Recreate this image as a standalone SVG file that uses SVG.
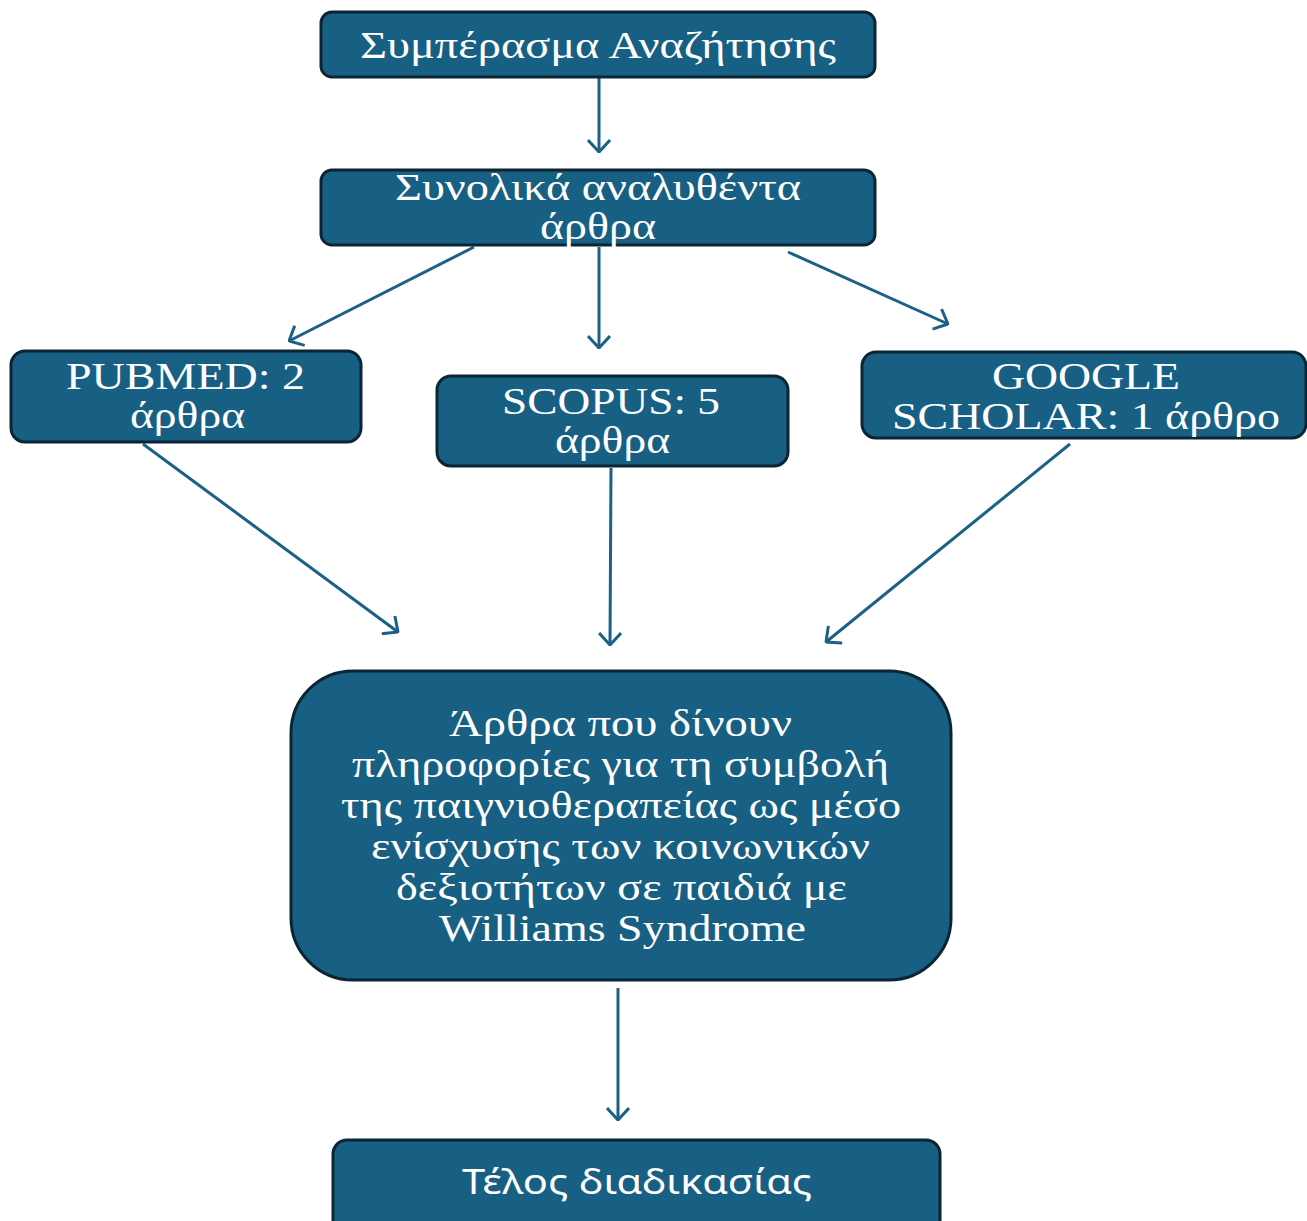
<svg xmlns="http://www.w3.org/2000/svg" width="1307" height="1221" viewBox="0 0 1307 1221">
<style>
.box{fill:#186083;stroke:#0c2535;stroke-width:3}
.t{fill:#ffffff;font-family:"Liberation Serif","DejaVu Serif","Times New Roman",serif;font-size:37px}
.s{fill:#ffffff;font-family:"Noto Sans","Open Sans",sans-serif;font-size:34px}
.c{stroke:#1b6185;stroke-width:3;fill:none;marker-end:url(#ah)}
</style>
<defs>
<marker id="ah" viewBox="0 0 14 24" refX="13" refY="12" markerWidth="14" markerHeight="24" markerUnits="userSpaceOnUse" orient="auto">
<path d="M1,1 L13,12 L1,23" fill="none" stroke="#1b6185" stroke-width="3"/>
</marker>
</defs>
<rect width="1307" height="1221" fill="#ffffff"/>
<g id="connectors">
<line class="c" x1="599" y1="78" x2="599" y2="152"/>
<line class="c" x1="474" y1="247" x2="289" y2="341"/>
<line class="c" x1="599" y1="247" x2="599" y2="348"/>
<line class="c" x1="788" y1="252" x2="948" y2="324"/>
<line class="c" x1="143" y1="444" x2="398" y2="632"/>
<line class="c" x1="611" y1="468" x2="610" y2="645"/>
<line class="c" x1="1070" y1="444" x2="826" y2="642"/>
<line class="c" x1="618" y1="988" x2="618" y2="1120"/>
</g>
<g id="n1">
<rect class="box" x="321" y="12" width="554" height="65" rx="11"/>
<text class="t" x="360" y="58" textLength="476" lengthAdjust="spacingAndGlyphs">Συμπέρασμα Αναζήτησης</text>
</g>
<g id="n2">
<rect class="box" x="321" y="170" width="554" height="75" rx="11"/>
<text class="t" x="395" y="200" textLength="406" lengthAdjust="spacingAndGlyphs">Συνολικά αναλυθέντα</text>
<text class="t" x="540" y="239" textLength="116" lengthAdjust="spacingAndGlyphs">άρθρα</text>
</g>
<g id="n3">
<rect class="box" x="11" y="351" width="350" height="91" rx="14"/>
<text class="t" x="66" y="389" textLength="239" lengthAdjust="spacingAndGlyphs">PUBMED: 2</text>
<text class="t" x="130" y="428" textLength="115" lengthAdjust="spacingAndGlyphs">άρθρα</text>
</g>
<g id="n4">
<rect class="box" x="437" y="376" width="351" height="90" rx="14"/>
<text class="t" x="502" y="414" textLength="218" lengthAdjust="spacingAndGlyphs">SCOPUS: 5</text>
<text class="t" x="555" y="453" textLength="115" lengthAdjust="spacingAndGlyphs">άρθρα</text>
</g>
<g id="n5">
<rect class="box" x="862" y="352" width="444" height="86" rx="14"/>
<text class="t" x="992" y="389" textLength="188" lengthAdjust="spacingAndGlyphs">GOOGLE</text>
<text class="t" x="892" y="429" textLength="388" lengthAdjust="spacingAndGlyphs">SCHOLAR: 1 άρθρο</text>
</g>
<g id="n6">
<rect class="box" x="291" y="671" width="660" height="309" rx="62"/>
<text class="t" x="449" y="736" textLength="343" lengthAdjust="spacingAndGlyphs">Άρθρα που δίνουν</text>
<text class="t" x="352" y="777" textLength="537" lengthAdjust="spacingAndGlyphs">πληροφορίες για τη συμβολή</text>
<text class="t" x="341" y="818" textLength="560" lengthAdjust="spacingAndGlyphs">της παιγνιοθεραπείας ως μέσο</text>
<text class="t" x="371" y="859" textLength="499" lengthAdjust="spacingAndGlyphs">ενίσχυσης των κοινωνικών</text>
<text class="t" x="396" y="900" textLength="451" lengthAdjust="spacingAndGlyphs">δεξιοτήτων σε παιδιά με</text>
<text class="t" x="439" y="941" textLength="367" lengthAdjust="spacingAndGlyphs">Williams Syndrome</text>
</g>
<g id="n7">
<rect class="box" x="333" y="1140" width="607" height="100" rx="14"/>
<text class="s" x="462" y="1194" textLength="350" lengthAdjust="spacingAndGlyphs">Τέλος διαδικασίας</text>
</g>
</svg>
